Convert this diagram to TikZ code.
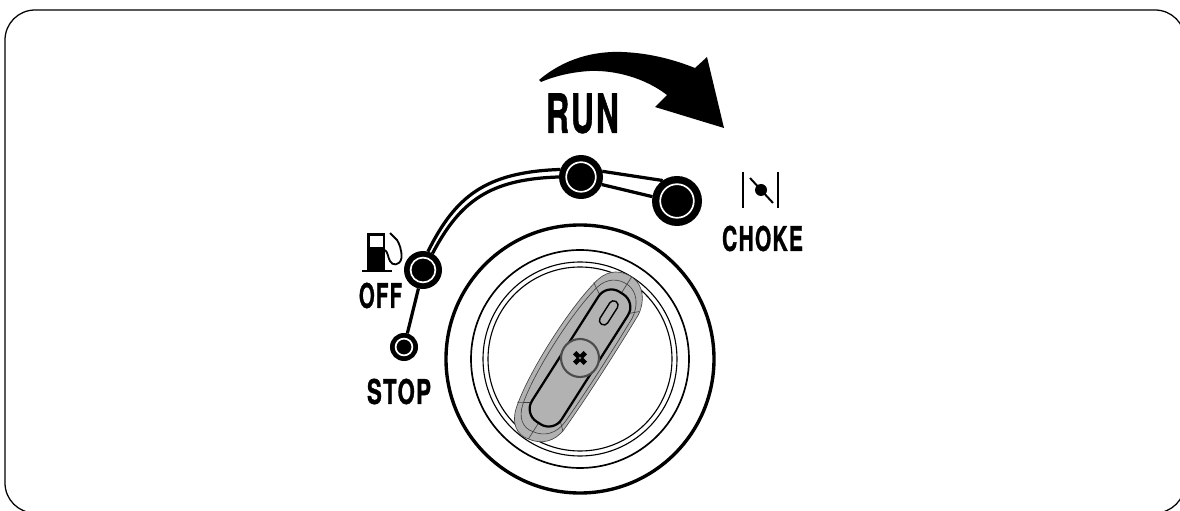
\documentclass[tikz,border=0pt]{standalone}
\usepackage{graphicx}
\usepackage{fontspec}
\setmainfont{TeX Gyre Heros}[LetterSpace=6,BoldFeatures={FakeBold=1.2}]
\usepackage{tikz}
\usetikzlibrary{positioning,calc}

% label of a given size, sizes in cm
\newcommand{\signtext}[3]{\resizebox{#1cm}{#2cm}{\bfseries #3}}
% outline of the lever in its own axes
\newcommand{\leverpath}{(76,-27) .. controls (40,-36) and (-40,-36) .. (-76,-27)
    .. controls (-92,-23) and (-99,-12) .. (-96,0)
    .. controls (-94,14) and (-84,24) .. (-68,25)
    .. controls (-30,27) and (30,27) .. (68,26)
    .. controls (84,24) and (95,14) .. (96,2)
    .. controls (97,-12) and (90,-23) .. (76,-27) -- cycle}

\begin{document}
\begin{tikzpicture}[
    x=0.025cm, y=-0.025cm,
    frame/.style={draw=black, line width=0.9pt, rounded corners=0.75cm},
    sign/.style={inner sep=0pt, outer sep=0pt, text=black},
    stopouter/.style={circle, fill=black, inner sep=0pt, outer sep=0pt},
    stopinner/.style={circle, fill=black, draw=white, line width=1.2pt, inner sep=0pt, outer sep=0pt},
    track/.style={black, line width=2.3pt},
    ringthick/.style={draw=black, line width=2.4pt},
    ringthin/.style={draw=black, line width=0.8pt},
    leverline/.style={draw=black!75, line width=0.45pt},
]
\useasboundingbox (0,0) rectangle (1180,511);

% =====================================================================
% Outer frame
% =====================================================================
\begin{scope}
\clip (0,0) rectangle (1180,511);
\draw[frame] (5,10) rectangle (1185,513);
\end{scope}

% =====================================================================
% Arrow over RUN
% =====================================================================
\fill[black] (539,80) .. controls (565,58) and (595,51) .. (622,52)
    .. controls (650,53) and (675,60) .. (695,68) -- (707,57) -- (724,128)
    -- (655,107) -- (667,95) .. controls (645,78) and (615,70) .. (590,71)
    .. controls (572,72) and (555,76) .. (541,82) -- cycle;

% =====================================================================
% Selector stops and the track between them
% =====================================================================
\node[stopouter, minimum size=0.7cm] (stop) at (404,347) {};
\node[stopouter, minimum size=0.95cm] (off) at (423,270) {};
\node[stopouter, minimum size=1.1cm] (run) at (581,177) {};
\node[stopouter, minimum size=1.25cm] (choke) at (677,201) {};

\draw[track] (stop) -- (off);
\draw[track] (off.75) .. controls (455,197) and (485,172) .. (run.160);
\draw[track] (off.60) .. controls (460,201) and (490,179) .. (run.180);
\draw[track] (run.15) -- (choke.125);
\draw[track] (run.340) -- (choke.170);

\node[stopinner, minimum size=0.42cm] (stopc) at (stop) {};
\node[stopinner, minimum size=0.62cm] (offc) at (off) {};
\node[stopinner, minimum size=0.74cm] (runc) at (run) {};
\node[stopinner, minimum size=0.84cm] (chokec) at (choke) {};

% =====================================================================
% Labels
% =====================================================================
\node[sign] (runlabel) at (582.5,113.5) {\signtext{1.82}{0.98}{RUN}};
\node[sign] (chokelabel) at (762.5,238.5) {\signtext{2.02}{0.63}{CHOKE}};
\node[sign] (offlabel) at (380.5,295.5) {\signtext{1.08}{0.63}{OFF}};
\node[sign] (stoplabel) at (399,391.5) {\signtext{1.6}{0.63}{STOP}};

% Fuel pump icon
\fill[black] (367,233) rectangle (385,270);
\fill[black] (362,270) rectangle (392,272.5);
\fill[white] (369.5,236) rectangle (382.5,247);
\draw[black, line width=1.3pt] (385,250) .. controls (388,252) and (388,258) .. (390,261)
    .. controls (392,266) and (400,266) .. (401.5,258)
    .. controls (402,250) and (399,243) .. (397,240) -- (390,233);

% Choke icon
\draw[black, line width=1.7pt] (743,172) -- (743,208);
\draw[black, line width=1.7pt] (778,172) -- (778,208);
\draw[black, line width=1.4pt] (750,178) -- (773,203);
\fill[black] (761,190) circle (6);

% =====================================================================
% Knob
% =====================================================================
\draw[ringthick] (580,359) circle (134);
\draw[ringthin, line width=1.2pt] (580,359) circle (109);
\draw[ringthin] (580,359) circle (97);
\draw[ringthin] (580,359) circle (92);

% Lever, long axis along local x
\begin{scope}[shift={(580,358)}, rotate=57.5]
\filldraw[fill=black!30, leverline] \leverpath;
\begin{scope}[xscale=0.91, yscale=0.87]
\draw[leverline] \leverpath;
\end{scope}
\foreach \s in {-1,1} {
    \draw[leverline] (\s*64,-17.5) -- (\s*71,-29);
    \draw[leverline] (\s*64,17.5) -- (\s*71,25);
    \draw[leverline] (\s*96,0) -- (\s*77,0);
}
\draw[black, line width=1.6pt, rounded corners=0.38cm] (-77,-17.5) rectangle (77,17.5);
\draw[black, line width=1pt, rounded corners=0.11cm] (40,-4.5) rectangle (67,4.5);
\draw[draw=black!70, fill=black!30, line width=1.5pt] (0,0) circle (19);
\end{scope}

% Screw head
\begin{scope}[shift={(580,358)}, rotate=45]
\fill[black] (-7.5,-2.4) rectangle (7.5,2.4);
\fill[black] (-2.4,-7.5) rectangle (2.4,7.5);
\fill[black!55] (0,0) circle (1.5);
\end{scope}

\end{tikzpicture}
\end{document}
